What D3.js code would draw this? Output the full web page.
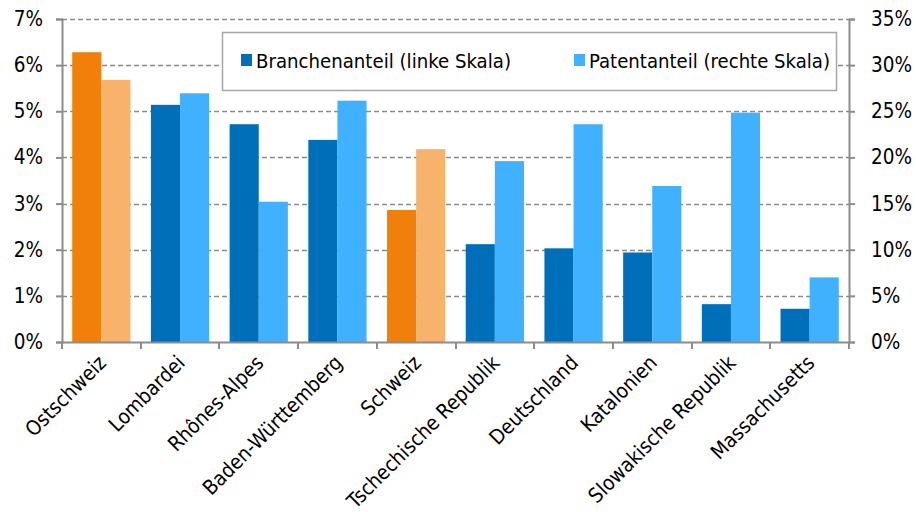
<!DOCTYPE html>
<html>
<head>
<meta charset="utf-8">
<script src="https://cdn.jsdelivr.net/npm/d3@7"></script>
<style>
  body { margin: 0; background: #fff; }
  svg text { font-family: Tahoma, "DejaVu Sans Condensed", "DejaVu Sans", sans-serif; fill: #000; }
</style>
</head>
<body>
<div id="chart"></div>
<script>
var categories = ["Ostschweiz", "Lombardei", "Rhônes-Alpes", "Baden-Württemberg", "Schweiz",
    "Tschechische Republik", "Deutschland", "Katalonien", "Slowakische Republik", "Massachusetts"];
// Branchenanteil, linke Skala (%)
var branche = [6.28, 5.14, 4.72, 4.38, 2.86, 2.12, 2.03, 1.94, 0.82, 0.72];
// Patentanteil, rechte Skala (%)
var patent = [28.4, 26.95, 15.2, 26.15, 20.9, 19.6, 23.6, 16.9, 24.85, 7.0];
var leftTicks = [0, 1, 2, 3, 4, 5, 6, 7];
var rightTicks = [0, 5, 10, 15, 20, 25, 30, 35];
var highlight = ["Ostschweiz", "Schweiz"];
var seriesNames = ["Branchenanteil (linke Skala)", "Patentanteil (rechte Skala)"];

var W = 916, H = 512;
var margin = {left: 62, right: 67, top: 19, bottom: 170};
var plotW = W - margin.left - margin.right;
var plotH = H - margin.top - margin.bottom;

var svg = d3.select("#chart").append("svg")
    .attr("width", W)
    .attr("height", H);

var g = svg.append("g").attr("transform", "translate(" + margin.left + "," + margin.top + ")");

var x = d3.scaleBand().domain(categories).range([0, plotW]).paddingInner(0.26).paddingOuter(0.13);
var yL = d3.scaleLinear().domain([0, 7]).range([plotH, 0]);
var yR = d3.scaleLinear().domain([0, 35]).range([plotH, 0]);

// gridlines
g.append("g").selectAll("line")
    .data(leftTicks.filter(function (d) { return d > 0; }))
    .enter().append("line")
    .attr("x1", 0).attr("x2", plotW)
    .attr("y1", function (d) { return Math.round(yL(d)) + 0.5; })
    .attr("y2", function (d) { return Math.round(yL(d)) + 0.5; })
    .attr("stroke", "#8c8c8c")
    .attr("stroke-width", 1.3)
    .attr("stroke-dasharray", "5,3");

var half = x.bandwidth() / 2;

// bars
categories.forEach(function (c, i) {
    var hl = highlight.indexOf(c) >= 0;
    g.append("rect")
        .attr("x", x(c))
        .attr("y", yL(branche[i]))
        .attr("width", half)
        .attr("height", plotH - yL(branche[i]))
        .attr("fill", hl ? "#f0800a" : "#006fb9");
    g.append("rect")
        .attr("x", x(c) + half)
        .attr("y", yR(patent[i]))
        .attr("width", half)
        .attr("height", plotH - yR(patent[i]))
        .attr("fill", hl ? "#f7b26c" : "#3fb1ff");
});

// axes
var axisColor = "#8c8c8c";
var leftAxis = g.append("g")
    .call(d3.axisLeft(yL).tickValues(leftTicks).tickSize(6).tickPadding(13)
        .tickFormat(function (d) { return d + "%"; }));
var rightAxis = g.append("g")
    .attr("transform", "translate(" + plotW + ",0)")
    .call(d3.axisRight(yR).tickValues(rightTicks).tickSize(6).tickPadding(16)
        .tickFormat(function (d) { return d + "%"; }));
var bottomAxis = g.append("g")
    .attr("transform", "translate(0," + plotH + ")")
    .call(d3.axisBottom(x).tickSize(0).tickPadding(0));

[leftAxis, rightAxis, bottomAxis].forEach(function (a) {
    a.select(".domain").attr("stroke", axisColor).attr("stroke-width", 2);
    a.selectAll(".tick line").attr("stroke", axisColor).attr("stroke-width", 2);
    a.selectAll("text").attr("font-size", 20.5).attr("font-family", null);
});

// category boundary ticks
g.append("g").selectAll("line")
    .data(d3.range(categories.length + 1))
    .enter().append("line")
    .attr("x1", function (i) { return Math.round(i * plotW / categories.length); })
    .attr("x2", function (i) { return Math.round(i * plotW / categories.length); })
    .attr("y1", plotH).attr("y2", plotH + 7)
    .attr("stroke", axisColor).attr("stroke-width", 2);

bottomAxis.selectAll(".tick text")
    .attr("text-anchor", "end")
    .attr("dy", "0.35em")
    .attr("transform", "translate(1,17) rotate(-45)");

// legend
var lg = g.append("g").attr("transform", "translate(" + (222 - margin.left) + "," + (32 - margin.top) + ")");
lg.append("rect")
    .attr("x", 0.5).attr("y", 0.5)
    .attr("width", 614).attr("height", 58)
    .attr("fill", "#fff")
    .attr("stroke", "#a6a6a6")
    .attr("stroke-width", 1.5);
var legendColors = ["#006fb9", "#3fb1ff"];
var legendX = [19, 352];
var legendW = [255, 241];
seriesNames.forEach(function (s, i) {
    lg.append("rect")
        .attr("x", legendX[i]).attr("y", 22)
        .attr("width", 11).attr("height", 12)
        .attr("fill", legendColors[i]);
    lg.append("text")
        .attr("x", legendX[i] + 15).attr("y", 36)
        .attr("font-size", 20)
        .attr("textLength", legendW[i])
        .attr("lengthAdjust", "spacingAndGlyphs")
        .text(s);
});
</script>
</body>
</html>
